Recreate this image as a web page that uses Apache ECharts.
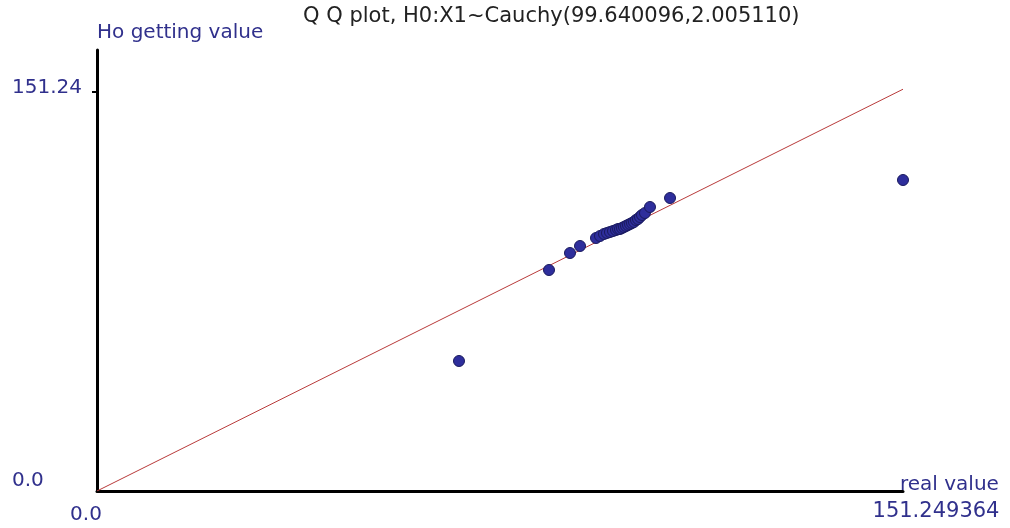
<!DOCTYPE html>
<html>
<head>
<meta charset="utf-8">
<script src="https://cdn.jsdelivr.net/npm/echarts@6/dist/echarts.min.js"></script>
<style>html,body{margin:0;padding:0;background:#fff;}#c{width:1010px;height:528px;}</style>
</head>
<body>
<div id="c"></div>
<script>
var titleText = 'Q Q plot, H0:X1~Cauchy(99.640096,2.005110)';
var xName = 'real value';
var yName = 'Ho getting value';
var xTickValues = [0, 151.249364];
var xTickLabels = ['0.0', '151.249364'];
var yTickValues = [0, 151.24];
var yTickLabels = ['0.0', '151.24'];
var xMax = 151.249364;
var yAxisMax = 167.16;
// sample quantiles (real value) and expected quantiles (Ho getting value)
var realValues = [67.93, 84.82, 88.76, 90.64, 93.64,
  94.39, 95.14, 95.70, 96.26, 96.83, 97.39, 97.77, 98.14, 98.52, 98.89,
  99.27, 99.64, 100.02, 100.39, 100.77, 101.14, 101.52, 101.89, 102.27, 102.83,
  103.77, 107.53, 151.249364];
var hoValues = [49.28, 83.77, 90.21, 92.87, 95.90,
  96.66, 97.42, 97.80, 98.17, 98.55, 98.93, 99.31, 99.31, 99.69, 100.07,
  100.45, 100.83, 101.21, 101.59, 101.97, 102.72, 103.10, 103.86, 104.62, 105.38,
  107.65, 111.06, 117.88];
var refLineX = [0, 151.249364];
var refLineY = [0, 152.3];

var pts = realValues.map(function (v, i) { return [v, hoValues[i]]; });
var ref = refLineX.map(function (v, i) { return [v, refLineY[i]]; });
var labelColor = '#30308c';
var font = 'DejaVu Sans';

var chart = echarts.init(document.getElementById('c'), null, {renderer: 'canvas'});
chart.setOption({
  backgroundColor: '#ffffff',
  animation: false,
  title: {
    text: titleText, left: 298, top: 1,
    textStyle: {fontFamily: font, fontSize: 21, fontWeight: 'normal', color: '#222222'}
  },
  grid: {left: 97, right: 107, top: 50, bottom: 37, containLabel: false},
  xAxis: {
    type: 'value', min: 0, max: xMax,
    name: xName, nameLocation: 'end', nameGap: -3,
    nameTextStyle: {fontFamily: font, fontSize: 20, lineHeight: 12, color: labelColor, align: 'left', verticalAlign: 'bottom'},
    axisLine: {show: true, lineStyle: {color: '#000', width: 3}},
    axisTick: {show: false},
    splitLine: {show: false},
    axisLabel: {
      customValues: xTickValues, margin: 10,
      formatter: function (v) {
        var i = xTickValues.indexOf(v);
        return i === 0 ? '{a|' + xTickLabels[0] + '}' : '{b|' + xTickLabels[i] + '}';
      },
      rich: {
        a: {fontFamily: font, fontSize: 20, color: labelColor, padding: [4, 22, 0, 0]},
        b: {fontFamily: font, fontSize: 21, color: labelColor, padding: [0, 0, 0, 66]}
      }
    }
  },
  yAxis: {
    type: 'value', min: 0, max: yAxisMax,
    name: yName, nameLocation: 'end', nameGap: 7,
    nameTextStyle: {fontFamily: font, fontSize: 20, color: labelColor, align: 'left'},
    axisLine: {show: true, lineStyle: {color: '#000', width: 3}},
    axisTick: {show: true, customValues: [yTickValues[1]], length: 5, lineStyle: {color: '#000', width: 2}},
    splitLine: {show: false},
    axisLabel: {
      customValues: yTickValues, margin: 85, align: 'left',
      formatter: function (v) {
        var i = yTickValues.indexOf(v);
        return i === 0 ? '{z|' + yTickLabels[0] + '}' : '{t|' + yTickLabels[i] + '}';
      },
      rich: {
        z: {fontFamily: font, fontSize: 20, color: labelColor, padding: [0, 0, 20, 0]},
        t: {fontFamily: font, fontSize: 20, color: labelColor, padding: [0, 0, 8, 0]}
      }
    }
  },
  series: [
    {
      type: 'line', data: ref, symbol: 'none', z: 2,
      lineStyle: {color: '#b83a3a', width: 1}
    },
    {
      type: 'scatter', data: pts, symbol: 'circle', symbolSize: 11, z: 3,
      itemStyle: {color: '#2e2e9c', borderColor: '#1a1a5e', borderWidth: 1, opacity: 1}
    }
  ]
});
</script>
</body>
</html>
